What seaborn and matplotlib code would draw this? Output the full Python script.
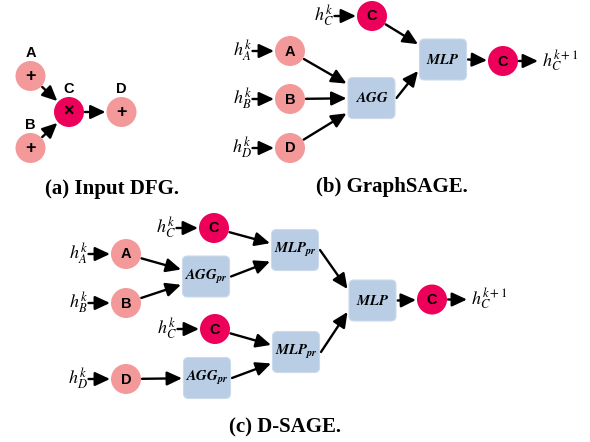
import numpy as np
import pandas as pd
import matplotlib
matplotlib.use("Agg")
import matplotlib.pyplot as plt
import seaborn as sns
from matplotlib.patches import FancyBboxPatch, FancyArrowPatch

# ---------------- data (diagram content) ----------------
captions = ["(a) Input DFG.", "(b) GraphSAGE.", "(c) D-SAGE."]

circle_ids = ["a_A", "a_B", "a_C", "a_D",
              "b_Ct", "b_A", "b_B", "b_D", "b_Co",
              "c_Ct", "c_A", "c_B", "c_Cb", "c_D", "c_Co"]
circle_text = ["+", "+", "×", "+",
               "C", "A", "B", "D", "C",
               "C", "A", "B", "C", "D", "C"]
circle_kind = ["operand", "operand", "operator", "operand",
               "operator", "operand", "operand", "operand", "operator",
               "operator", "operand", "operand", "operator", "operand", "operator"]

dfg_label_nodes = ["a_A", "a_B", "a_C", "a_D"]
dfg_label_text = ["A", "B", "C", "D"]

box_ids = ["b_AGG", "b_MLP", "c_AGG1", "c_AGG2", "c_MLP1", "c_MLP2", "c_MLP"]
box_text = [r"$\mathbfit{AGG}$", r"$\mathbfit{MLP}$",
            r"$\mathbfit{AGG}_{\mathbfit{pr}}$", r"$\mathbfit{AGG}_{\mathbfit{pr}}$",
            r"$\mathbfit{MLP}_{\mathbfit{pr}}$", r"$\mathbfit{MLP}_{\mathbfit{pr}}$",
            r"$\mathbfit{MLP}$"]

edges = [("a_A", "a_C"), ("a_B", "a_C"), ("a_C", "a_D"),
         ("b_A", "b_AGG"), ("b_B", "b_AGG"), ("b_D", "b_AGG"),
         ("b_AGG", "b_MLP"), ("b_Ct", "b_MLP"), ("b_MLP", "b_Co"),
         ("c_A", "c_AGG1"), ("c_B", "c_AGG1"), ("c_AGG1", "c_MLP1"),
         ("c_Ct", "c_MLP1"), ("c_Cb", "c_MLP2"), ("c_D", "c_AGG2"),
         ("c_AGG2", "c_MLP2"), ("c_MLP1", "c_MLP"), ("c_MLP2", "c_MLP"),
         ("c_MLP", "c_Co")]

input_nodes = ["b_Ct", "b_A", "b_B", "b_D", "c_Ct", "c_A", "c_B", "c_Cb", "c_D"]
input_text = [r"$h_{C}^{k}$", r"$h_{A}^{k}$", r"$h_{B}^{k}$", r"$h_{D}^{k}$",
              r"$h_{C}^{k}$", r"$h_{A}^{k}$", r"$h_{B}^{k}$", r"$h_{C}^{k}$", r"$h_{D}^{k}$"]
output_nodes = ["b_Co", "c_Co"]
output_text = [r"$h_{C}^{k+1}$", r"$h_{C}^{k+1}$"]

# ---------------- layout (pixel space) ----------------
layout = {
    "a_A": (30.5, 76), "a_B": (30.5, 148), "a_C": (69, 112), "a_D": (121.5, 112),
    "b_Ct": (372, 16), "b_A": (290, 51), "b_B": (290, 99), "b_D": (290, 148),
    "b_Co": (503, 61),
    "b_AGG": (371.5, 98), "b_MLP": (443, 59.5),
    "c_Ct": (214, 228), "c_A": (126, 254), "c_B": (126, 303), "c_Cb": (215, 329),
    "c_D": (126, 379), "c_Co": (432, 299.5),
    "c_AGG1": (206, 276.5), "c_AGG2": (207, 378), "c_MLP1": (295, 250),
    "c_MLP2": (296, 352), "c_MLP": (372.5, 300.5),
}
caption_pos = [(112, 189), (392, 187), (285, 427)]
R = 15.0            # circle radius (px)
BW, BH = 47.0, 41.0  # box size (px)

colors = {"operand": "#F4999A", "operator": "#EC005A"}
box_face = "#B9CDE5"
box_edge = "#CCDAEC"

# ---------------- figure ----------------
sns.set_theme(style="white")
plt.rcParams["mathtext.fontset"] = "stix"

fig = plt.figure(figsize=(5.9, 4.42), dpi=100)
ax = fig.add_axes([0, 0, 1, 1])

df = pd.DataFrame({
    "id": circle_ids,
    "x": [layout[i][0] for i in circle_ids],
    "y": [layout[i][1] for i in circle_ids],
    "kind": circle_kind,
    "text": circle_text,
})
diam_pt = 2 * R * 72 / 100
sns.scatterplot(data=df, x="x", y="y", hue="kind", palette=colors,
                s=diam_pt ** 2, linewidth=0, legend=False, ax=ax, zorder=3)

for t, (_, r) in zip(circle_text, df.iterrows()):
    if t in ("+", "×"):
        ax.text(r.x, r.y + 0.5, t, ha="center", va="center", fontsize=13,
                fontweight="bold", family="Liberation Sans", color="black", zorder=4)
    else:
        ax.text(r.x, r.y + 0.5, t, ha="center", va="center", fontsize=10.5,
                fontweight="bold", family="Liberation Sans", color="black", zorder=4)

for nid, t in zip(dfg_label_nodes, dfg_label_text):
    x, y = layout[nid]
    ax.text(x, y - R - 8, t, ha="center", va="center", fontsize=10.5,
            fontweight="bold", family="Liberation Sans", color="black")

for bid, t in zip(box_ids, box_text):
    x, y = layout[bid]
    ax.add_patch(FancyBboxPatch((x - BW / 2, y - BH / 2), BW, BH,
                                boxstyle="round,pad=0,rounding_size=5",
                                facecolor=box_face, edgecolor=box_edge, lw=0.8, zorder=3))
    ax.text(x, y, t, ha="center", va="center", fontsize=10.5, color="black", zorder=4)


def arrow(p0, p1):
    ax.add_patch(FancyArrowPatch(p0, p1, arrowstyle="-|>,head_length=0.6,head_width=0.28",
                                 mutation_scale=15, lw=1.7, color="black",
                                 shrinkA=0, shrinkB=0, zorder=2))


def circ_pt(c, toward, gap=1.0):
    c = np.asarray(c, float)
    d = np.asarray(toward, float) - c
    d /= np.linalg.norm(d)
    return c + d * (R + gap)


def box_clip(c, frm, gap=1.5):
    c = np.asarray(c, float)
    d = np.asarray(frm, float) - c
    hw, hh = BW / 2 + gap, BH / 2 + gap
    t = min(hw / abs(d[0]) if d[0] else np.inf, hh / abs(d[1]) if d[1] else np.inf)
    return c + d * t


is_box = set(box_ids)
for s, d in edges:
    ps, pd_ = layout[s], layout[d]
    if s not in is_box and d not in is_box:
        arrow(circ_pt(ps, pd_), circ_pt(pd_, ps))
    elif s not in is_box and d in is_box:
        arrow(circ_pt(ps, pd_), box_clip(pd_, ps))
    elif s in is_box and d not in is_box:
        st = (ps[0] + BW / 2 + 1.5, ps[1])
        arrow(st, circ_pt(pd_, st))
    else:
        st = (ps[0] + BW / 2 + 1.5, ps[1])
        off = 0.28 * BH * np.sign(ps[1] - pd_[1])
        arrow(st, (pd_[0] - BW / 2 - 1.5, pd_[1] + off))

for nid, t in zip(input_nodes, input_text):
    x, y = layout[nid]
    ax.text(x - 38, y, t, ha="right", va="center", fontsize=13, color="black")
    arrow((x - 37.5, y), (x - R - 1, y))

for nid, t in zip(output_nodes, output_text):
    x, y = layout[nid]
    arrow((x + R + 1, y), (x + 35, y))
    ax.text(x + 39, y, t, ha="left", va="center", fontsize=13, color="black")

for t, (x, y) in zip(captions, caption_pos):
    ax.text(x, y, t, ha="center", va="center", fontsize=15, fontweight="bold",
            family="Liberation Serif", color="black")

ax.set_xlim(0, 590)
ax.set_ylim(442, 0)
ax.axis("off")
fig.savefig("out.png", dpi=100)
